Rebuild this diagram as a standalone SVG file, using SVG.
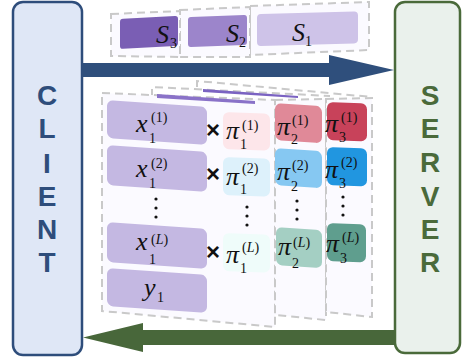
<svg xmlns="http://www.w3.org/2000/svg" width="462" height="363" viewBox="0 0 462 363">
<style>
.dash{fill:none;stroke:#c9c9c9;stroke-width:2;stroke-dasharray:8 5}
.panel{fill:#fbfaff;stroke:#c9c9c9;stroke-width:2;stroke-dasharray:8 5}
.m{font-family:"Liberation Serif","DejaVu Serif",serif;font-style:italic;font-size:26px;fill:#111}
.s{font-style:normal;font-size:14px}
.big{font-family:"Liberation Sans","Open Sans",sans-serif;font-weight:bold;font-size:28px;text-anchor:middle}
.times{font-family:"Liberation Sans","DejaVu Sans",sans-serif;font-weight:bold;font-size:24px;text-anchor:middle;fill:#111}
.xb{fill:#c4b8e2}
.dot{fill:#111}
.i{font-style:italic}
</style>

<g id="client">
<rect x="13" y="2" width="69" height="353" rx="10" fill="#dfe7f6" stroke="#2e4d7b" stroke-width="2.5"/>
<text class="big" fill="#2e4d7b" x="47" y="105">C<tspan x="47" y="138">L</tspan><tspan x="47" y="173">I</tspan><tspan x="47" y="206">E</tspan><tspan x="47" y="239">N</tspan><tspan x="47" y="272">T</tspan></text>
</g>

<g id="server">
<rect x="395" y="2" width="65" height="351" rx="10" fill="#eaf1ec" stroke="#4a6a3a" stroke-width="2.5"/>
<text class="big" fill="#4a6a3a" x="430" y="105">S<tspan x="430" y="138">E</tspan><tspan x="430" y="172">R</tspan><tspan x="430" y="206">V</tspan><tspan x="430" y="239">E</tspan><tspan x="430" y="272">R</tspan></text>
</g>

<g id="connectors">
<polygon points="82,63 329,63 329,55 394,70 329,85 329,77 82,77" fill="#2f4f7c"/>
<polygon points="395,330 143,330 143,323 83,337.5 143,352 143,345 395,345" fill="#48673a"/>
</g>

<g id="shares">
<polygon class="panel" points="250,6 369,2 369,50 250,55"/>
<polygon class="panel" points="180,10 250,7 250,57 180,57"/>
<polygon class="panel" points="111,14 180,11 180,57 111,56"/>
<g transform="translate(120,19) skewY(-3)"><rect width="58" height="30" rx="3" fill="#7a5eb4"/></g>
<g transform="translate(188,17) skewY(-2)"><rect width="59" height="30" rx="3" fill="#9c85cb"/></g>
<g transform="translate(257,14) skewY(-1.5)"><rect width="101" height="32" rx="4" fill="#cec3e8"/></g>
<text class="m" x="156" y="43" font-size="24">S<tspan class="s" x="170" y="48" font-size="15">3</tspan></text>
<text class="m" x="226" y="42" font-size="24">S<tspan class="s" x="239" y="47" font-size="15">2</tspan></text>
<text class="m" x="292" y="41" font-size="24">S<tspan class="s" x="305" y="46" font-size="15">1</tspan></text>
</g>

<g id="matrix">
<polyline class="dash" points="197,87 197,81 372,97"/>
<polyline class="dash" points="152,97 152,87 330,96"/>
<polygon class="panel" points="102,93 275,100 275,327 102,311"/>
<polygon class="panel" points="275,100 326,99 326,320 275,315"/>
<polygon class="panel" points="326,99 372,98 372,317 326,312"/>
<polygon points="203,89 298,96 298,98 203,92" fill="#7b63c2"/>
<polygon points="157,94 255,101 255,104 157,98" fill="#8a72c8"/>
</g>

<g id="x-col">
<g transform="translate(107,100) skewY(4)"><rect class="xb" width="100" height="38" rx="6"/></g>
<g transform="translate(107,145) skewY(4)"><rect class="xb" width="100" height="40" rx="6"/></g>
<g transform="translate(107,222) skewY(4)"><rect class="xb" width="100" height="40" rx="6"/></g>
<g transform="translate(107,268) skewY(4)"><rect class="xb" width="100" height="38" rx="6"/></g>
<text class="m" x="136" y="132">x<tspan class="s" x="149" y="143">1</tspan><tspan class="s" x="151" y="122">(1)</tspan></text>
<text class="m" x="136" y="177">x<tspan class="s" x="149" y="188">1</tspan><tspan class="s" x="151" y="168">(2)</tspan></text>
<text class="m" x="136" y="250">x<tspan class="s" x="149" y="264">1</tspan><tspan class="s" x="151" y="244">(<tspan class="i">L</tspan>)</tspan></text>
<text class="m" x="144" y="296">y<tspan class="s" x="157" y="302">1</tspan></text>
<circle class="dot" cx="156" cy="199" r="1.6"/><circle class="dot" cx="156" cy="208" r="1.6"/><circle class="dot" cx="156" cy="217" r="1.6"/>
<text class="times" x="213" y="138">×</text>
<text class="times" x="213" y="182">×</text>
<text class="times" x="213" y="260">×</text>
</g>

<g id="pi1-col">
<g transform="translate(223,112) skewY(2)"><rect width="47" height="37" rx="6" fill="#fde6ea"/></g>
<g transform="translate(223,157) skewY(2)"><rect width="47" height="38" rx="6" fill="#ddf1fb"/></g>
<g transform="translate(223,233) skewY(2)"><rect width="47" height="38" rx="6" fill="#effcfa"/></g>
<text class="m" x="226" y="139">π<tspan class="s" x="240" y="149">1</tspan><tspan class="s" x="242" y="130">(1)</tspan></text>
<text class="m" x="226" y="185">π<tspan class="s" x="240" y="194">1</tspan><tspan class="s" x="242" y="173">(2)</tspan></text>
<text class="m" x="226" y="263">π<tspan class="s" x="240" y="273">1</tspan><tspan class="s" x="242" y="252">(<tspan class="i">L</tspan>)</tspan></text>
<circle class="dot" cx="247" cy="207" r="1.6"/><circle class="dot" cx="247" cy="216" r="1.6"/><circle class="dot" cx="247" cy="225" r="1.6"/>
</g>

<g id="pi2-col">
<g transform="translate(275,103) skewY(4)"><rect width="47" height="37" rx="6" fill="#e08998"/></g>
<g transform="translate(275,148) skewY(4)"><rect width="47" height="37" rx="6" fill="#86c8f2"/></g>
<g transform="translate(276,227) skewY(4)"><rect width="46" height="38" rx="6" fill="#a4cfc3"/></g>
<text class="m" x="277" y="135">π<tspan class="s" x="291" y="144">2</tspan><tspan class="s" x="292" y="125">(1)</tspan></text>
<text class="m" x="277" y="180">π<tspan class="s" x="291" y="191">2</tspan><tspan class="s" x="292" y="170">(2)</tspan></text>
<text class="m" x="278" y="255">π<tspan class="s" x="292" y="268">2</tspan><tspan class="s" x="293" y="247">(<tspan class="i">L</tspan>)</tspan></text>
<circle class="dot" cx="297" cy="201" r="1.6"/><circle class="dot" cx="297" cy="210" r="1.6"/><circle class="dot" cx="297" cy="219" r="1.6"/>
</g>

<g id="pi3-col">
<g transform="translate(327,102) skewY(2)"><rect width="40" height="38" rx="6" fill="#c8425a"/></g>
<g transform="translate(327,147) skewY(2)"><rect width="40" height="38" rx="6" fill="#2196e0"/></g>
<g transform="translate(327,223) skewY(2)"><rect width="39" height="38" rx="6" fill="#5f9e8e"/></g>
<text class="m" x="325" y="132">π<tspan class="s" x="339" y="142">3</tspan><tspan class="s" x="341" y="122">(1)</tspan></text>
<text class="m" x="325" y="178">π<tspan class="s" x="339" y="188">3</tspan><tspan class="s" x="341" y="167">(2)</tspan></text>
<text class="m" x="326" y="252">π<tspan class="s" x="340" y="263">3</tspan><tspan class="s" x="342" y="242">(<tspan class="i">L</tspan>)</tspan></text>
<circle class="dot" cx="343" cy="197" r="1.6"/><circle class="dot" cx="343" cy="206" r="1.6"/><circle class="dot" cx="343" cy="215" r="1.6"/>
</g>
</svg>
